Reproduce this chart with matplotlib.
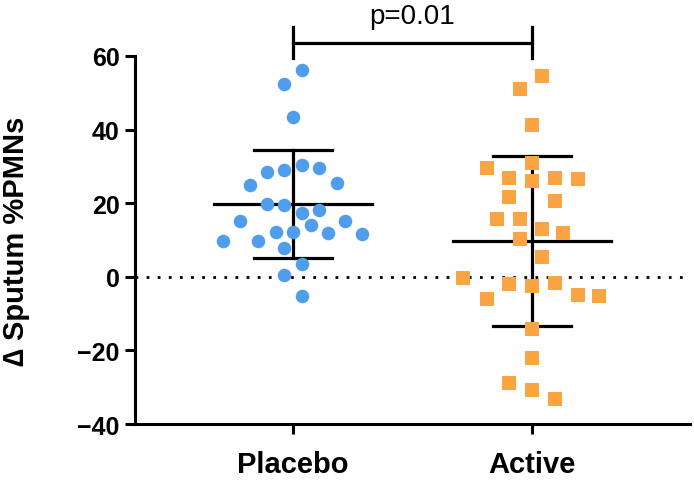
import matplotlib.pyplot as plt
import numpy as np

plt.rcParams['font.family'] = ['Liberation Sans', 'DejaVu Sans']

groups = ['Placebo', 'Active']

# Placebo values with horizontal scatter offsets
placebo_y = [56.2, 52.4, 43.3, 28.6, 29.1, 30.4, 29.6, 25.0, 25.4, 19.8, 19.6,
             17.3, 18.2, 15.2, 14.2, 15.2, 9.8, 9.8, 12.3, 12.3, 12.0, 11.6,
             7.7, 3.4, 0.4, -5.1]
placebo_dx = [0.04, -0.035, 0.0, -0.11, -0.037, 0.037, 0.11, -0.18, 0.185,
              -0.11, -0.037, 0.037, 0.11, -0.22, 0.075, 0.22, -0.29, -0.145,
              -0.07, 0.0, 0.145, 0.29, -0.035, 0.037, -0.035, 0.037]

active_y = [54.6, 51.0, 41.3, 30.8, 29.6, 26.8, 25.9, 26.8, 26.6, 21.8, 20.5,
            15.8, 15.6, 12.9, 12.0, 10.3, 5.3, -0.2, -2.0, -2.6, -1.8, -6.0,
            -4.9, -5.2, -14.2, -22.1, -28.9, -30.8, -33.2]
active_dx = [0.04, -0.05, 0.0, 0.0, -0.19, -0.095, 0.0, 0.095, 0.19, -0.095,
             0.095, -0.145, -0.05, 0.04, 0.13, -0.05, 0.04, -0.29, -0.095, 0.0,
             0.095, -0.19, 0.19, 0.28, 0.0, 0.0, -0.095, 0.0, 0.095]

means = [19.8, 9.6]
sds = [14.6, 23.1]
p_text = 'p=0.01'

blue = '#4f9deb'
orange = '#fba443'

fig = plt.figure(figsize=(6.94, 4.81), dpi=100)
ax = fig.add_axes([0.1945, 0.1164, 0.7997, 0.7651])

ax.axhline(0, color='black', lw=2, ls=(0, (1, 3)), zorder=1)

for i in range(2):
    ax.plot([i - 0.33, i + 0.33], [means[i], means[i]], color='black', lw=2.3, zorder=2)
    ax.plot([i, i], [means[i] - sds[i], means[i] + sds[i]], color='black', lw=2.3, zorder=2)
    for yy in [means[i] - sds[i], means[i] + sds[i]]:
        ax.plot([i - 0.163, i + 0.163], [yy, yy], color='black', lw=2.3, zorder=2)

ax.scatter(np.array(placebo_dx), placebo_y, s=95, color=blue, linewidths=0, zorder=3)
ax.scatter(1 + np.array(active_dx), active_y, s=115, marker='s', color=orange,
           linewidths=0, zorder=3)

# significance bracket
ax.plot([0, 0, 1, 1], [59.4, 63.5, 63.5, 59.4], color='black', lw=2.3,
        clip_on=False, solid_joinstyle='miter')
ax.plot([0, 0], [63.5, 67.9], color='black', lw=2.3, clip_on=False)
ax.plot([1, 1], [63.5, 67.9], color='black', lw=2.3, clip_on=False)
ax.text(0.5, 67.3, p_text, ha='center', va='bottom', fontsize=20)

ax.set_xlim(-0.66, 1.66)
ax.set_ylim(-40, 60)
ax.set_xticks([0, 1])
ax.set_xticklabels(groups, fontsize=21, fontweight='bold')
ax.set_yticks([-40, -20, 0, 20, 40, 60])
ax.tick_params(axis='y', labelsize=18, width=2.2, length=7, pad=4)
ax.tick_params(axis='x', width=2.2, length=7, pad=12)
for lab in ax.get_yticklabels():
    lab.set_fontweight('bold')

for s in ['top', 'right']:
    ax.spines[s].set_visible(False)
for s in ['left', 'bottom']:
    ax.spines[s].set_linewidth(2.2)

ax.set_ylabel('\u2206 Sputum %PMNs', fontsize=21, fontweight='bold')
ax.yaxis.set_label_coords(-0.19, 0.5)

fig.savefig('out.png', dpi=100)
